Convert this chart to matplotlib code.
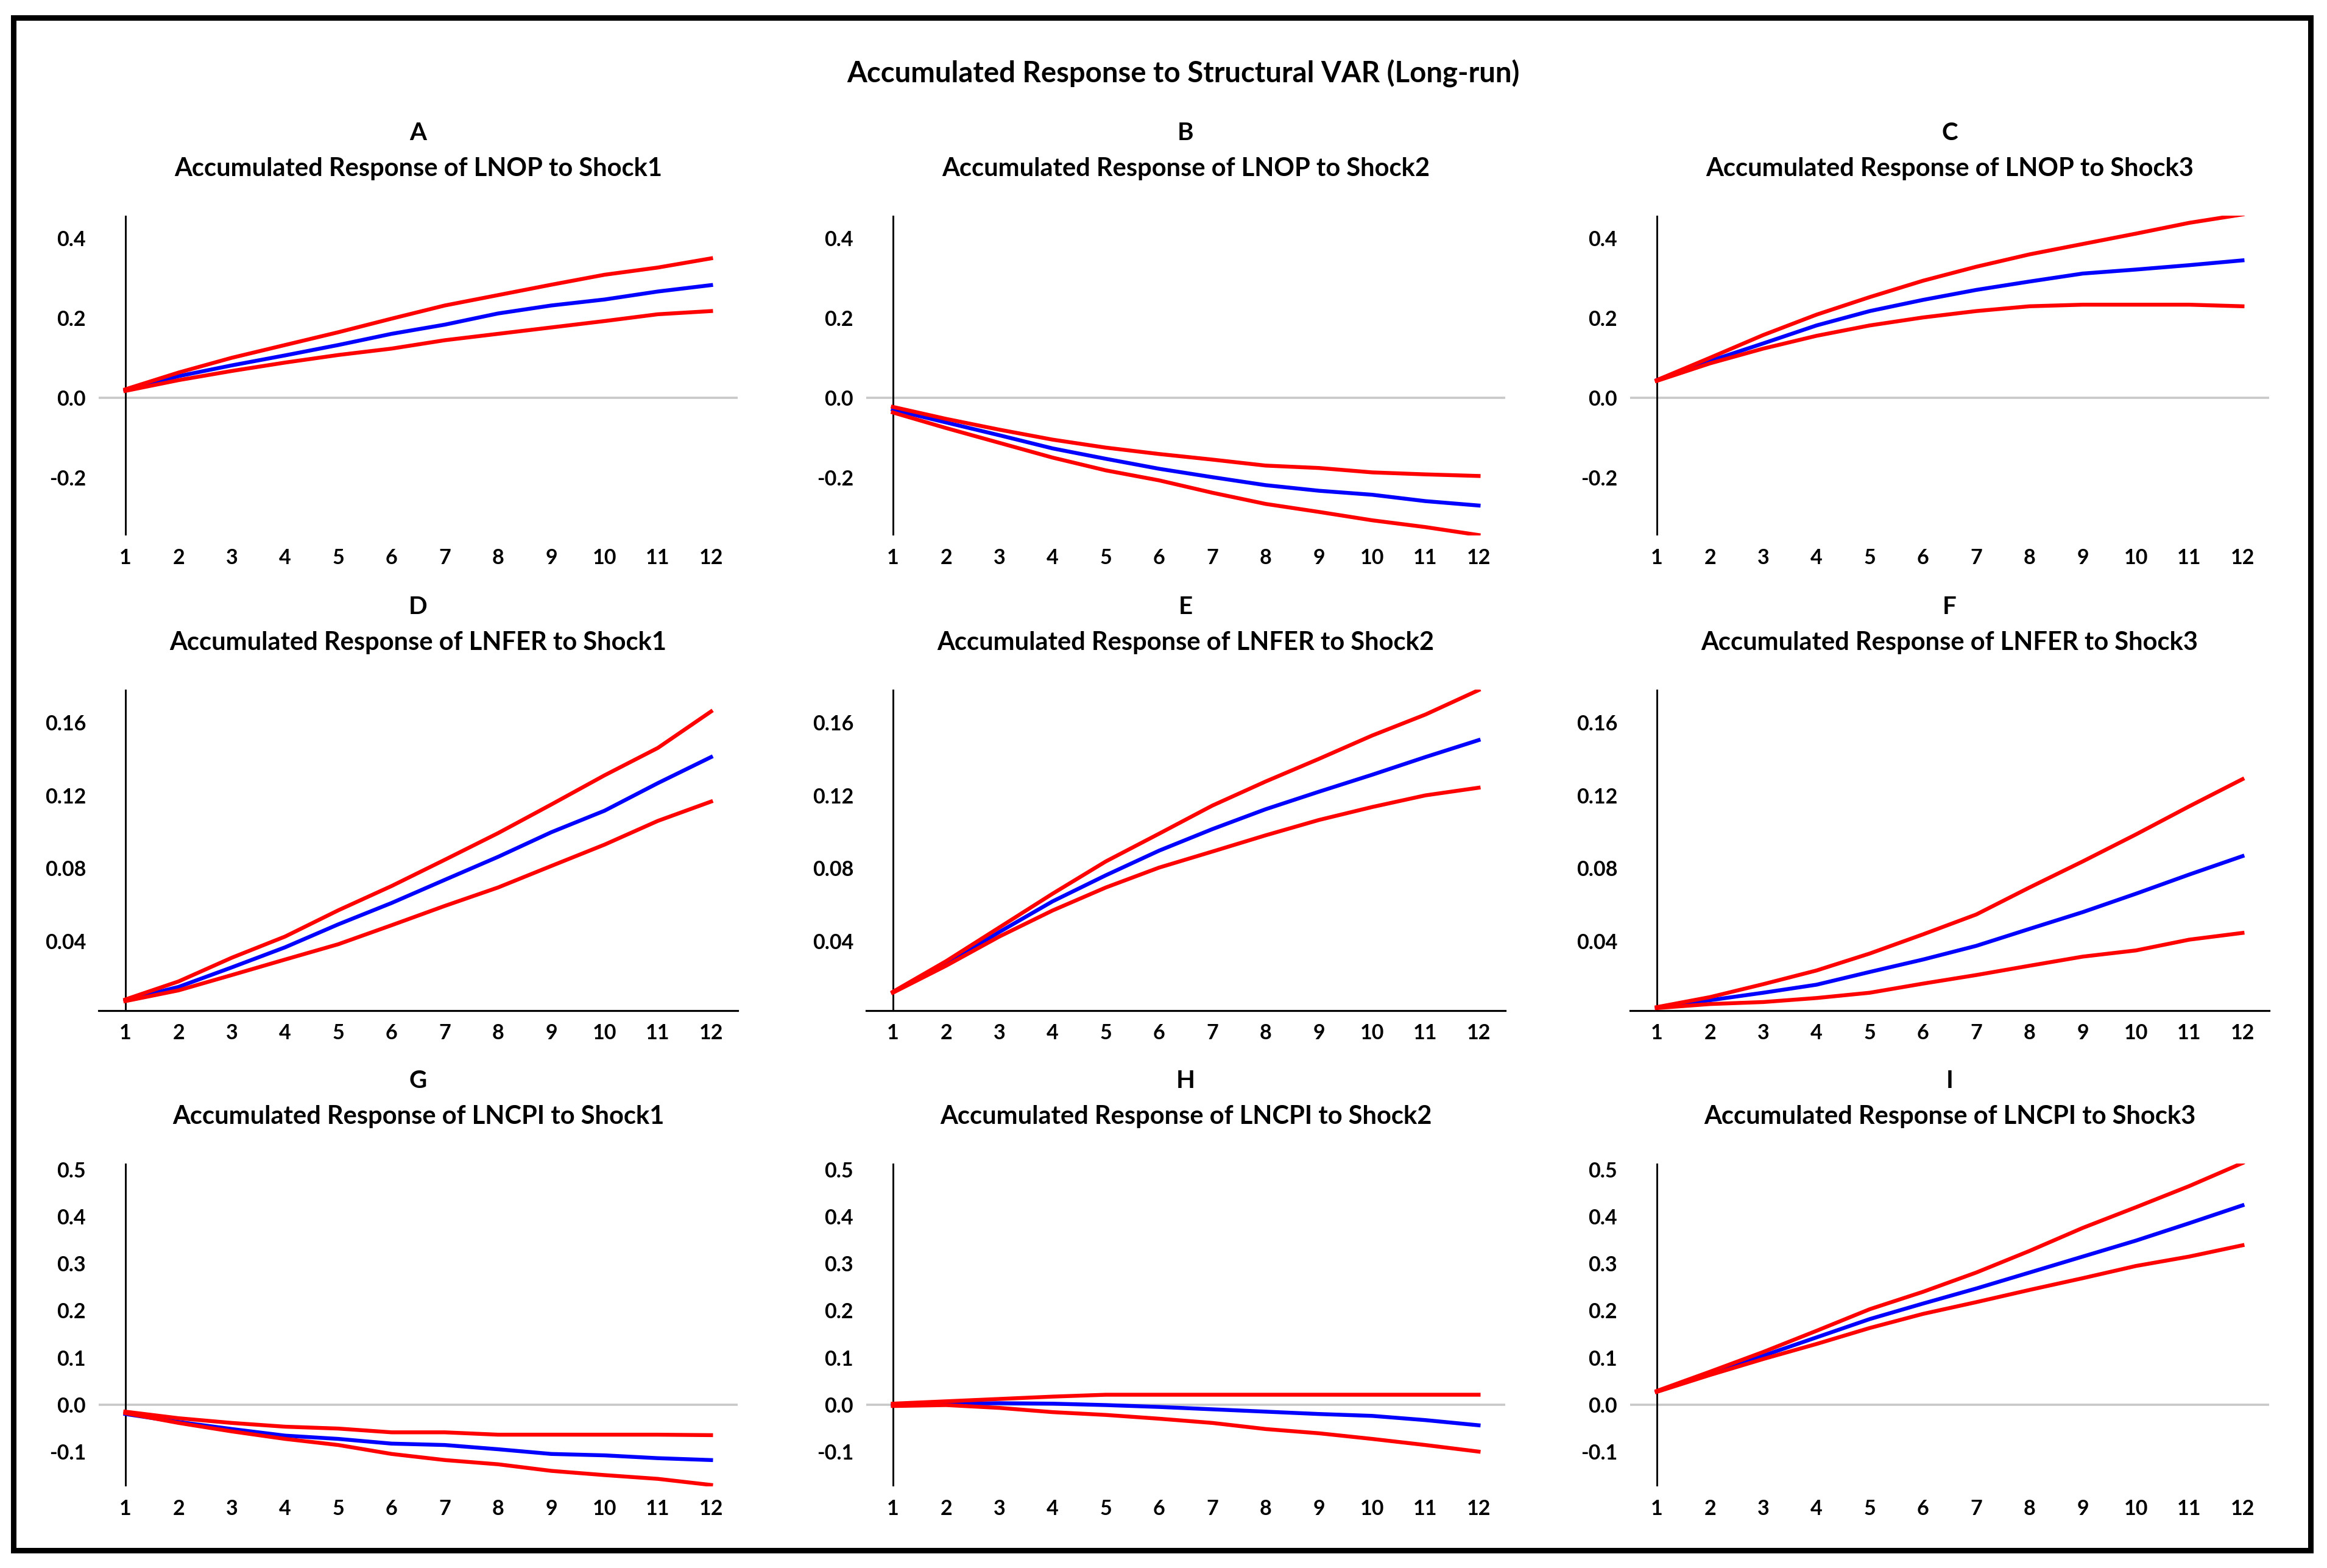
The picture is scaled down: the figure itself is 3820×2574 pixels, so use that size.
import matplotlib
matplotlib.use("Agg")
import matplotlib.pyplot as plt
from matplotlib.patches import Rectangle

plt.rcParams['font.family'] = ['Lato', 'DejaVu Sans']

# ---------------- data ----------------
periods = list(range(1, 13))
x_labels = [str(p) for p in periods]

suptitle = "Accumulated Response to Structural VAR (Long-run)"
letters = ["A", "B", "C", "D", "E", "F", "G", "H", "I"]
titles = [
    "Accumulated Response of LNOP to Shock1",
    "Accumulated Response of LNOP to Shock2",
    "Accumulated Response of LNOP to Shock3",
    "Accumulated Response of LNFER to Shock1",
    "Accumulated Response of LNFER to Shock2",
    "Accumulated Response of LNFER to Shock3",
    "Accumulated Response of LNCPI to Shock1",
    "Accumulated Response of LNCPI to Shock2",
    "Accumulated Response of LNCPI to Shock3",
]

# Panel A
a_upper = [0.021, 0.063, 0.100, 0.132, 0.164, 0.198, 0.231, 0.257, 0.283, 0.308, 0.326, 0.349]
a_resp  = [0.018, 0.054, 0.081, 0.106, 0.132, 0.160, 0.183, 0.211, 0.231, 0.246, 0.266, 0.282]
a_lower = [0.017, 0.044, 0.067, 0.088, 0.107, 0.123, 0.144, 0.160, 0.176, 0.192, 0.209, 0.217]
# Panel B
b_upper = [-0.023, -0.053, -0.080, -0.105, -0.125, -0.141, -0.155, -0.170, -0.176, -0.187, -0.192, -0.196]
b_resp  = [-0.030, -0.062, -0.094, -0.127, -0.153, -0.178, -0.199, -0.219, -0.233, -0.243, -0.259, -0.270]
b_lower = [-0.037, -0.076, -0.113, -0.150, -0.182, -0.207, -0.238, -0.266, -0.286, -0.307, -0.324, -0.344]
# Panel C
c_upper = [0.044, 0.100, 0.157, 0.208, 0.252, 0.293, 0.328, 0.359, 0.385, 0.411, 0.438, 0.459]
c_resp  = [0.044, 0.092, 0.136, 0.181, 0.217, 0.245, 0.270, 0.291, 0.311, 0.321, 0.332, 0.344]
c_lower = [0.042, 0.086, 0.123, 0.155, 0.181, 0.201, 0.217, 0.229, 0.233, 0.233, 0.233, 0.229]
# Panel D
d_upper = [0.0081, 0.0180, 0.0310, 0.0426, 0.0570, 0.0703, 0.0847, 0.0993, 0.1150, 0.1310, 0.1460, 0.1660]
d_resp  = [0.0077, 0.0150, 0.0257, 0.0367, 0.0493, 0.0610, 0.0737, 0.0863, 0.0998, 0.1116, 0.1267, 0.1410]
d_lower = [0.0072, 0.0131, 0.0215, 0.0300, 0.0384, 0.0488, 0.0594, 0.0695, 0.0813, 0.0930, 0.1060, 0.1166]
# Panel E
e_upper = [0.0123, 0.0291, 0.0476, 0.0661, 0.0838, 0.0990, 0.1144, 0.1276, 0.1400, 0.1528, 0.1643, 0.1777]
e_resp  = [0.0120, 0.0274, 0.0451, 0.0619, 0.0762, 0.0897, 0.1015, 0.1124, 0.1220, 0.1313, 0.1410, 0.1503]
e_lower = [0.0118, 0.0266, 0.0426, 0.0569, 0.0695, 0.0804, 0.0892, 0.0981, 0.1065, 0.1136, 0.1200, 0.1242]
# Panel F
f_upper = [0.0039, 0.0094, 0.0165, 0.0240, 0.0333, 0.0438, 0.0547, 0.0695, 0.0838, 0.0986, 0.1140, 0.1289]
f_resp  = [0.0037, 0.0077, 0.0118, 0.0162, 0.0232, 0.0300, 0.0375, 0.0468, 0.0560, 0.0661, 0.0766, 0.0867]
f_lower = [0.0034, 0.0056, 0.0067, 0.0089, 0.0118, 0.0168, 0.0215, 0.0266, 0.0316, 0.0350, 0.0409, 0.0446]
# Panel G
g_upper = [-0.015, -0.029, -0.039, -0.047, -0.051, -0.059, -0.059, -0.064, -0.064, -0.064, -0.064, -0.065]
g_resp  = [-0.020, -0.037, -0.052, -0.066, -0.073, -0.083, -0.086, -0.095, -0.105, -0.108, -0.114, -0.118]
g_lower = [-0.018, -0.039, -0.057, -0.073, -0.086, -0.105, -0.118, -0.127, -0.141, -0.150, -0.158, -0.171]
# Panel H
h_upper = [0.002, 0.007, 0.012, 0.017, 0.021, 0.021, 0.021, 0.021, 0.021, 0.021, 0.021, 0.021]
h_resp  = [-0.001, 0.002, 0.003, 0.002, -0.001, -0.005, -0.010, -0.015, -0.020, -0.024, -0.033, -0.044]
h_lower = [-0.003, -0.001, -0.007, -0.016, -0.022, -0.030, -0.039, -0.052, -0.061, -0.073, -0.086, -0.100]
# Panel I
i_upper = [0.029, 0.070, 0.112, 0.157, 0.203, 0.240, 0.281, 0.327, 0.376, 0.420, 0.465, 0.514]
i_resp  = [0.028, 0.065, 0.104, 0.143, 0.182, 0.215, 0.247, 0.281, 0.315, 0.349, 0.386, 0.424]
i_lower = [0.027, 0.063, 0.097, 0.129, 0.163, 0.193, 0.218, 0.244, 0.269, 0.295, 0.315, 0.339]

uppers = [a_upper, b_upper, c_upper, d_upper, e_upper, f_upper, g_upper, h_upper, i_upper]
resps = [a_resp, b_resp, c_resp, d_resp, e_resp, f_resp, g_resp, h_resp, i_resp]
lowers = [a_lower, b_lower, c_lower, d_lower, e_lower, f_lower, g_lower, h_lower, i_lower]

row_ylims = [(-0.345, 0.456), (0.002, 0.178), (-0.174, 0.513)]
row_yticks = [[-0.2, 0.0, 0.2, 0.4],
              [0.04, 0.08, 0.12, 0.16],
              [-0.1, 0.0, 0.1, 0.2, 0.3, 0.4, 0.5]]
row_yticklabels = [["-0.2", "0.0", "0.2", "0.4"],
                   ["0.04", "0.08", "0.12", "0.16"],
                   ["-0.1", "0.0", "0.1", "0.2", "0.3", "0.4", "0.5"]]

# ---------------- layout (pixels) ----------------
W, H, DPI = 3820, 2574, 100
fig = plt.figure(figsize=(W / DPI, H / DPI), dpi=DPI)
fig.patch.set_facecolor("white")

col_lefts = [162, 1422, 2676]
ax_w = 1049
row_tops = [354, 1132, 1910]
row_bots = [879, 1659, 2440]

RED = "#FF0000"
BLUE = "#0000FF"
TICK_FS = 24.5
TITLE_FS = 30
LW = 4.6

for k in range(9):
    r, c = divmod(k, 3)
    left = col_lefts[c] / W
    bottom = 1 - row_bots[r] / H
    height = (row_bots[r] - row_tops[r]) / H
    ax = fig.add_axes([left, bottom, ax_w / W, height])
    ax.set_xlim(0.5, 12.5)
    ax.set_ylim(*row_ylims[r])
    for s in ax.spines.values():
        s.set_visible(False)
    if r == 1:
        ax.spines["bottom"].set_visible(True)
        ax.spines["bottom"].set_linewidth(2.3)
        ax.spines["bottom"].set_color("black")
    else:
        ax.axhline(0, color="#C8C8C8", lw=2.6, zorder=1)
    ax.axvline(1, color="black", lw=2.1, zorder=2)

    ax.plot(periods, resps[k], color=BLUE, lw=LW, zorder=3)
    ax.plot(periods, uppers[k], color=RED, lw=LW, zorder=4)
    ax.plot(periods, lowers[k], color=RED, lw=LW, zorder=4)

    ax.set_xticks(periods)
    ax.set_xticklabels(x_labels)
    ax.set_yticks(row_yticks[r])
    ax.set_yticklabels(row_yticklabels[r])
    ax.tick_params(axis="both", length=0, labelsize=TICK_FS)
    ax.tick_params(axis="y", pad=15)
    ax.tick_params(axis="x", pad=15)
    for lab in ax.get_xticklabels() + ax.get_yticklabels():
        lab.set_fontweight("bold")

    cx = (col_lefts[c] + ax_w / 2) / W
    fig.text(cx, 1 - (row_tops[r] - 136) / H, letters[k], ha="center", va="center",
             fontsize=29, fontweight="bold")
    fig.text(cx, 1 - (row_tops[r] - 77) / H, titles[k], ha="center", va="center",
             fontsize=TITLE_FS, fontweight="bold")

fig.text(1942 / W, 1 - 121 / H, suptitle, ha="center", va="center",
         fontsize=34, fontweight="bold")

fig.patches.append(Rectangle((21.5 / W, 1 - 2545 / H), (3793 - 21.5) / W, (2545 - 29) / H,
                             transform=fig.transFigure, fill=False, edgecolor="black",
                             linewidth=6.5, zorder=10))

fig.savefig("out.png", dpi=DPI, facecolor="white")
